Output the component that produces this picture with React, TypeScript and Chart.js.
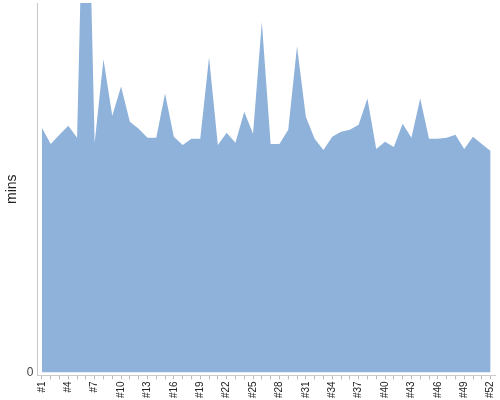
import React, { useEffect, useRef } from "react";
import { Chart, registerables } from "chart.js";

Chart.register(...registerables);

const weekLabels: string[] = Array.from({ length: 52 }, (_, i) => "#" + (i + 1));

const minsValues: number[] = [
  24.3, 22.7, 23.6, 24.5, 23.3, 60.3, 22.8, 31.1, 25.5, 28.4,
  24.9, 24.2, 23.3, 23.3, 27.7, 23.4, 22.6, 23.2, 23.2, 31.3,
  22.6, 23.8, 22.8, 25.9, 23.7, 34.8, 22.7, 22.7, 24.1, 32.4,
  25.4, 23.2, 22.1, 23.4, 23.9, 24.1, 24.6, 27.2, 22.2, 22.9,
  22.4, 24.7, 23.3, 27.2, 23.2, 23.2, 23.3, 23.6, 22.2, 23.4,
  22.7, 22.0,
];

const yAxisTitle = "mins";

export default function App() {
  const ref = useRef<HTMLCanvasElement | null>(null);

  useEffect(() => {
    document.body.style.margin = "0";
    if (!ref.current) return;
    const chart = new Chart(ref.current, {
      type: "line",
      data: {
        labels: weekLabels,
        datasets: [
          {
            data: minsValues,
            fill: "origin",
            backgroundColor: "rgb(143,178,219)",
            borderColor: "rgb(143,178,219)",
            borderWidth: 0,
            pointRadius: 0,
            tension: 0,
          },
        ],
      },
      options: {
        responsive: false,
        animation: false,
        layout: { padding: { top: 3, right: 5, left: 4, bottom: 0 } },
        plugins: { legend: { display: false }, tooltip: { enabled: false } },
        scales: {
          x: {
            offset: true,
            afterFit: (s: any) => {
              s.paddingRight = 0;
              s.paddingLeft = 0;
            },
            grid: {
              display: true,
              drawOnChartArea: false,
              drawTicks: true,
              tickLength: 4,
              color: "#bbbbbb",
              offset: false,
            },
            border: { display: true, color: "#cccccc" },
            ticks: {
              autoSkip: false,
              maxRotation: 90,
              minRotation: 90,
              padding: 2,
              color: "#222222",
              font: { family: "Liberation Sans, Arial, sans-serif", size: 10 },
              callback: (_v: any, i: number) => (i % 3 === 0 ? weekLabels[i] : ""),
            },
          },
          y: {
            min: -0.3,
            max: 36.7,
            afterFit: (s: any) => {
              s.paddingTop = 0;
              s.paddingBottom = 0;
            },
            grid: { display: false, drawTicks: true, tickLength: 4 },
            border: { display: true, color: "#c8c8c8", width: 1 },
            afterBuildTicks: (axis: any) => {
              axis.ticks = [{ value: 0 }];
            },
            ticks: {
              color: "#444444",
              padding: 0,
              font: { family: "Liberation Sans, Arial, sans-serif", size: 12 },
              callback: (v: any) => String(v),
            },
            title: {
              display: true,
              text: yAxisTitle,
              color: "#222222",
              padding: { top: 0, bottom: 6 },
              font: { family: "Liberation Sans, Arial, sans-serif", size: 14 },
            },
          },
        },
      },
    });
    return () => chart.destroy();
  }, []);

  return <canvas ref={ref} width={500} height={400} style={{ display: "block" }} />;
}
